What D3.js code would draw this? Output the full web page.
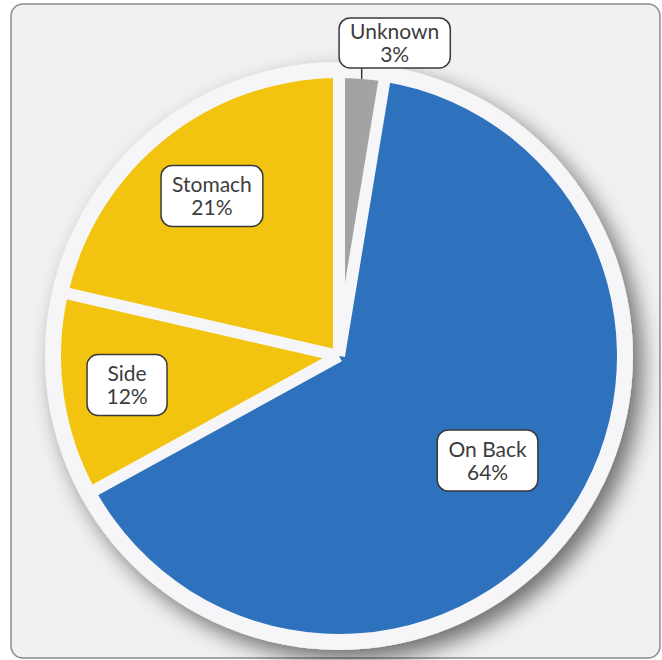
<!DOCTYPE html>
<html>
<head>
<meta charset="utf-8">
<script src="https://cdn.jsdelivr.net/npm/d3@7"></script>
<style>
  body { margin: 0; background: #ffffff; }
  svg text { font-family: Lato, "Open Sans", sans-serif; }
</style>
</head>
<body>
<div class="chart"></div>
<script>
// sleep position shares, clockwise from 12 o'clock
const categories = ["Unknown", "On Back", "Side", "Stomach"];
const shares = [2.6, 64.4, 11.6, 21.4];
const colors = ["#a3a3a3", "#2e72bd", "#f2c40f", "#f2c40f"];

const w = 662;
const h = 660;
const cx = 339;
const cy = 356;
const r = 278;
const gap = 12;
const ringColor = "#f6f6f8";

const svg = d3.select(".chart")
              .append("svg")
              .attr("width", w)
              .attr("height", h);

const defs = svg.append("defs");
const shadow = defs.append("filter")
                   .attr("id", "shadow")
                   .attr("x", "-20%").attr("y", "-20%")
                   .attr("width", "140%").attr("height", "140%");
shadow.append("feDropShadow")
      .attr("dx", 9)
      .attr("dy", 10)
      .attr("stdDeviation", 11)
      .attr("flood-color", "#000")
      .attr("flood-opacity", 0.55);

// panel
svg.append("rect")
   .attr("x", 11)
   .attr("y", 4)
   .attr("width", 649)
   .attr("height", 654)
   .attr("rx", 12)
   .attr("fill", "#f1f1f3")
   .attr("stroke", "#8c8c8c")
   .attr("stroke-width", 1.5);

const g = svg.append("g")
             .attr("transform", "translate(" + cx + "," + cy + ")");

// white backing disc with shadow
g.append("circle")
 .attr("r", r + 16)
 .attr("fill", ringColor)
 .attr("filter", "url(#shadow)");

const pie = d3.pie().sort(null).value(d => d)(shares);
const arc = d3.arc().innerRadius(0).outerRadius(r);

g.selectAll("path.slice")
 .data(pie)
 .enter()
 .append("path")
 .attr("class", "slice")
 .attr("d", arc)
 .attr("fill", (d, i) => colors[i]);

// white separators between slices
g.selectAll("line.sep")
 .data(pie)
 .enter()
 .append("line")
 .attr("class", "sep")
 .attr("x1", 0)
 .attr("y1", 0)
 .attr("x2", d => Math.sin(d.startAngle) * (r + 4))
 .attr("y2", d => -Math.cos(d.startAngle) * (r + 4))
 .attr("stroke", ringColor)
 .attr("stroke-width", gap);

const fmt = d3.format(".0f");
const labelRadius = { "On Back": 182, "Side": 214, "Stomach": 204 };

function drawLabel(x, y, name, value) {
  const lg = g.append("g").attr("transform", "translate(" + x + "," + y + ")");
  const box = lg.append("rect");
  const t = lg.append("text")
              .attr("text-anchor", "middle")
              .attr("fill", "#3d3d3d")
              .style("font-size", "21px");
  t.append("tspan").attr("x", 0).attr("y", -4).text(name);
  t.append("tspan").attr("x", 0).attr("y", 19).text(fmt(value) + "%");
  const bb = t.node().getBBox();
  const bw = Math.max(bb.width + 22, 80);
  const bh = name === "Unknown" ? 50 : 61;
  box.attr("x", -bw / 2)
     .attr("y", name === "Unknown" ? -25 : -31)
     .attr("width", bw)
     .attr("height", bh)
     .attr("rx", 11)
     .attr("fill", "#ffffff")
     .attr("stroke", "#3a3a3a")
     .attr("stroke-width", 1.5);
}

pie.forEach((d, i) => {
  const name = categories[i];
  if (name === "Unknown") {
    const a = (d.startAngle + d.endAngle) / 2;
    const px = Math.sin(a) * r;
    const py = -Math.cos(a) * r;
    g.append("line")
     .attr("x1", px).attr("y1", py)
     .attr("x2", px).attr("y2", py - 11)
     .attr("stroke", "#3a3a3a")
     .attr("stroke-width", 1.5);
    drawLabel(px + 33, py - 36, name, d.data);
  } else {
    const lr = labelRadius[name];
    const c = d3.arc().innerRadius(lr).outerRadius(lr).centroid(d);
    drawLabel(c[0], c[1], name, d.data);
  }
});
</script>
</body>
</html>
